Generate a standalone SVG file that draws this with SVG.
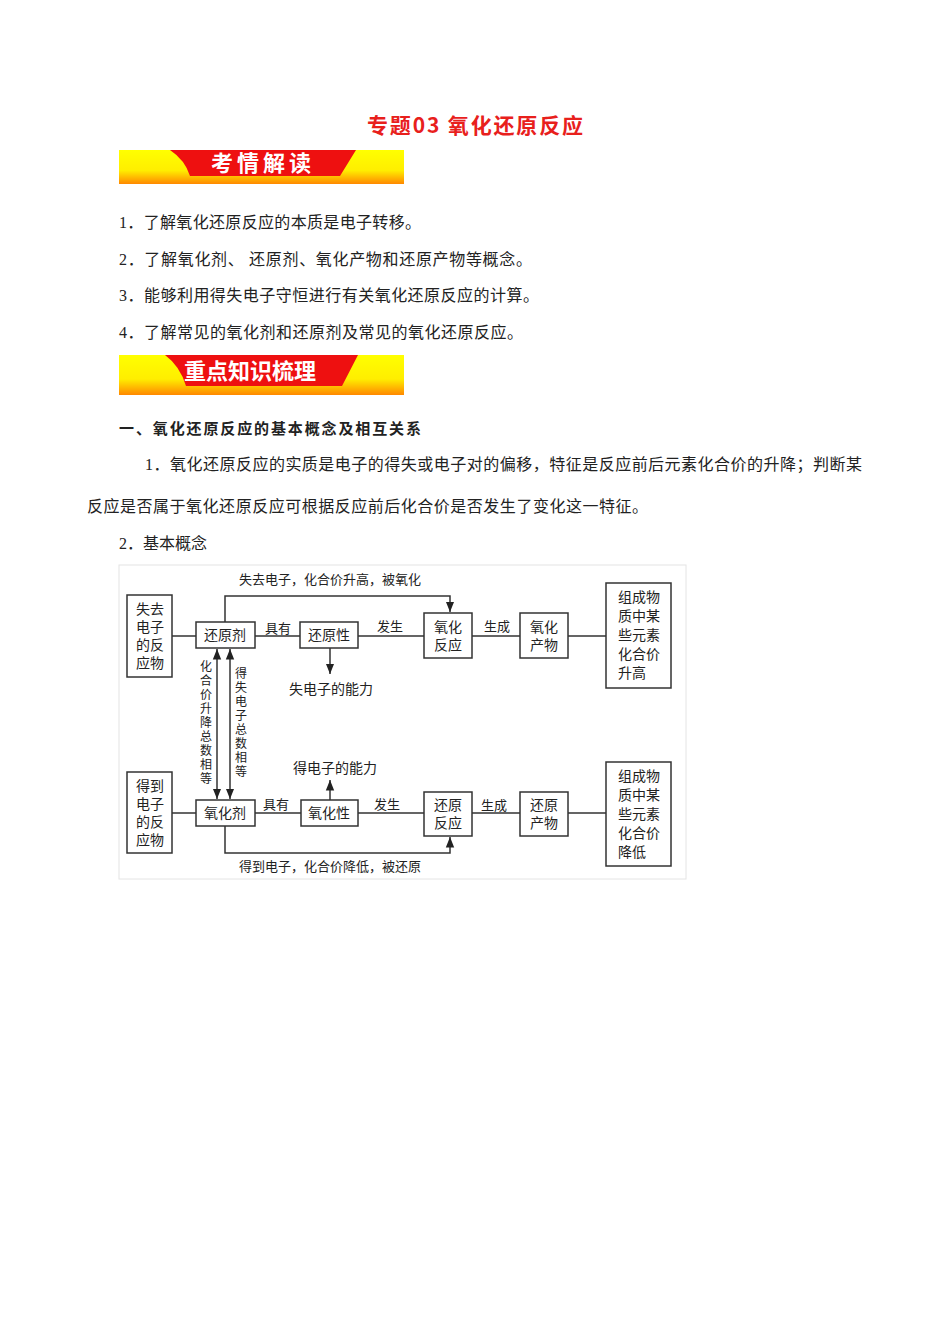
<svg xmlns="http://www.w3.org/2000/svg" width="950" height="1344" viewBox="0 0 950 1344">
<defs>
<linearGradient id="bg" x1="0" y1="0" x2="0" y2="1"><stop offset="0" stop-color="#ffff00"/><stop offset="0.6" stop-color="#ffee00"/><stop offset="1" stop-color="#ff8800"/></linearGradient>
<marker id="ah" viewBox="0 0 10 10" refX="10" refY="5" markerWidth="7" markerHeight="7" orient="auto-start-reverse"><path d="M0,1 L10,5 L0,9 z" fill="#222"/></marker>
</defs>
<style>
.t{font-family:"Liberation Serif","Noto Sans CJK SC",serif;font-size:16px;fill:#222}
.b{fill:#fff;stroke:#333;stroke-width:1.5}
.n{font-family:"Noto Sans CJK SC",sans-serif;font-size:14px;fill:#222}
.s{font-family:"Noto Sans CJK SC",sans-serif;font-size:13px;fill:#222}
.v{font-family:"Noto Sans CJK SC",sans-serif;font-size:12px;fill:#222;writing-mode:tb;letter-spacing:2px}
.l{stroke:#333;stroke-width:1.5;fill:none}
.ban{font-family:"Noto Sans CJK SC",sans-serif;font-weight:bold;fill:#fff;font-size:22px}
</style>
<rect width="950" height="1344" fill="#fff"/>
<text x="475" y="133" text-anchor="middle" font-family="Noto Sans CJK SC,sans-serif" font-size="21" font-weight="bold" fill="#e8201c" textLength="216">专题03 氧化还原反应</text>
<g id="banner1">
<rect x="119" y="150" width="285" height="34" fill="url(#bg)"/>
<path d="M170,150 L356,150 L340,176 L190,176 Q185,160 170,150 z" fill="#ee1010"/>
<text x="263" y="171" text-anchor="middle" class="ban" letter-spacing="4">考情解读</text>
</g>
<text x="119" y="228" class="t" textLength="302">1．了解氧化还原反应的本质是电子转移。</text>
<text x="119" y="265" class="t" textLength="413">2．了解氧化剂、 还原剂、氧化产物和还原产物等概念。</text>
<text x="119" y="301" class="t" textLength="420">3．能够利用得失电子守恒进行有关氧化还原反应的计算。</text>
<text x="119" y="338" class="t" textLength="404">4．了解常见的氧化剂和还原剂及常见的氧化还原反应。</text>
<g id="banner2">
<rect x="119" y="355" width="285" height="40" fill="url(#bg)"/>
<path d="M165,355 L358,355 L342,386 L186,386 Q180,366 165,355 z" fill="#ee1010"/>
<text x="250" y="379" text-anchor="middle" class="ban" font-size="20">重点知识梳理</text>
</g>
<text x="119" y="434" font-weight="bold" font-family="Noto Sans CJK SC,sans-serif" font-size="15" fill="#222" textLength="302">一、氧化还原反应的基本概念及相互关系</text>
<text x="145" y="470" class="t" textLength="717">1．氧化还原反应的实质是电子的得失或电子对的偏移，特征是反应前后元素化合价的升降；判断某</text>
<text x="87" y="512" class="t" textLength="561">反应是否属于氧化还原反应可根据反应前后化合价是否发生了变化这一特征。</text>
<text x="119" y="549" class="t">2．基本概念</text>
<rect x="119" y="565" width="567" height="314" fill="none" stroke="#e4e4e4"/>
<g id="connectors">
<path class="l" d="M172,636 H196 M255,636 H300 M358,636 H424 M472,636 H520 M568,636 H606"/>
<path class="l" d="M172,813 H196 M255,813 H301 M358,813 H424 M472,813 H520 M568,813 H606"/>
<path class="l" d="M225,622 V596 H450 V612" marker-end="url(#ah)"/>
<path class="l" d="M225,826 V853 H450 V837" marker-end="url(#ah)"/>
<path class="l" d="M217,649 V799" marker-start="url(#ah)" marker-end="url(#ah)"/>
<path class="l" d="M230,649 V799" marker-start="url(#ah)" marker-end="url(#ah)"/>
<path class="l" d="M330,648 V674" marker-end="url(#ah)"/>
<path class="l" d="M330,800 V780" marker-end="url(#ah)"/>
</g>
<g class="s">
<text x="330" y="584" text-anchor="middle">失去电子，化合价升高，被氧化</text>
<text x="330" y="871" text-anchor="middle">得到电子，化合价降低，被还原</text>
<text x="278" y="633" text-anchor="middle">具有</text><text x="390" y="631" text-anchor="middle">发生</text><text x="497" y="631" text-anchor="middle">生成</text>
<text x="276" y="809" text-anchor="middle">具有</text><text x="387" y="809" text-anchor="middle">发生</text><text x="494" y="810" text-anchor="middle">生成</text>
</g>
<text x="331" y="694" class="n" text-anchor="middle">失电子的能力</text>
<text x="335" y="773" class="n" text-anchor="middle">得电子的能力</text>
<text class="v" x="206" y="660">化合价升降总数相等</text>
<text class="v" x="241" y="667">得失电子总数相等</text>
<g id="n1"><rect class="b" x="127" y="595" width="45" height="82"/><text class="n" x="150" y="614" text-anchor="middle">失去</text><text class="n" x="150" y="632" text-anchor="middle">电子</text><text class="n" x="150" y="650" text-anchor="middle">的反</text><text class="n" x="150" y="668" text-anchor="middle">应物</text></g>
<g id="n2"><rect class="b" x="196" y="622" width="59" height="26"/><text class="n" x="225" y="640" text-anchor="middle">还原剂</text></g>
<g id="n3"><rect class="b" x="300" y="622" width="58" height="26"/><text class="n" x="329" y="640" text-anchor="middle">还原性</text></g>
<g id="n4"><rect class="b" x="424" y="613" width="48" height="45"/><text class="n" x="448" y="632" text-anchor="middle">氧化</text><text class="n" x="448" y="650" text-anchor="middle">反应</text></g>
<g id="n5"><rect class="b" x="520" y="613" width="48" height="45"/><text class="n" x="544" y="632" text-anchor="middle">氧化</text><text class="n" x="544" y="650" text-anchor="middle">产物</text></g>
<g id="n6"><rect class="b" x="606" y="583" width="65" height="105"/><text class="n" x="639" y="602" text-anchor="middle">组成物</text><text class="n" x="639" y="621" text-anchor="middle">质中某</text><text class="n" x="639" y="640" text-anchor="middle">些元素</text><text class="n" x="639" y="659" text-anchor="middle">化合价</text><text class="n" x="632" y="678" text-anchor="middle">升高</text></g>
<g id="n7"><rect class="b" x="127" y="772" width="45" height="81"/><text class="n" x="150" y="791" text-anchor="middle">得到</text><text class="n" x="150" y="809" text-anchor="middle">电子</text><text class="n" x="150" y="827" text-anchor="middle">的反</text><text class="n" x="150" y="845" text-anchor="middle">应物</text></g>
<g id="n8"><rect class="b" x="196" y="800" width="59" height="26"/><text class="n" x="225" y="818" text-anchor="middle">氧化剂</text></g>
<g id="n9"><rect class="b" x="301" y="800" width="57" height="26"/><text class="n" x="329" y="818" text-anchor="middle">氧化性</text></g>
<g id="n10"><rect class="b" x="424" y="792" width="48" height="44"/><text class="n" x="448" y="810" text-anchor="middle">还原</text><text class="n" x="448" y="828" text-anchor="middle">反应</text></g>
<g id="n11"><rect class="b" x="520" y="792" width="48" height="44"/><text class="n" x="544" y="810" text-anchor="middle">还原</text><text class="n" x="544" y="828" text-anchor="middle">产物</text></g>
<g id="n12"><rect class="b" x="606" y="762" width="65" height="104"/><text class="n" x="639" y="781" text-anchor="middle">组成物</text><text class="n" x="639" y="800" text-anchor="middle">质中某</text><text class="n" x="639" y="819" text-anchor="middle">些元素</text><text class="n" x="639" y="838" text-anchor="middle">化合价</text><text class="n" x="632" y="857" text-anchor="middle">降低</text></g>
</svg>
